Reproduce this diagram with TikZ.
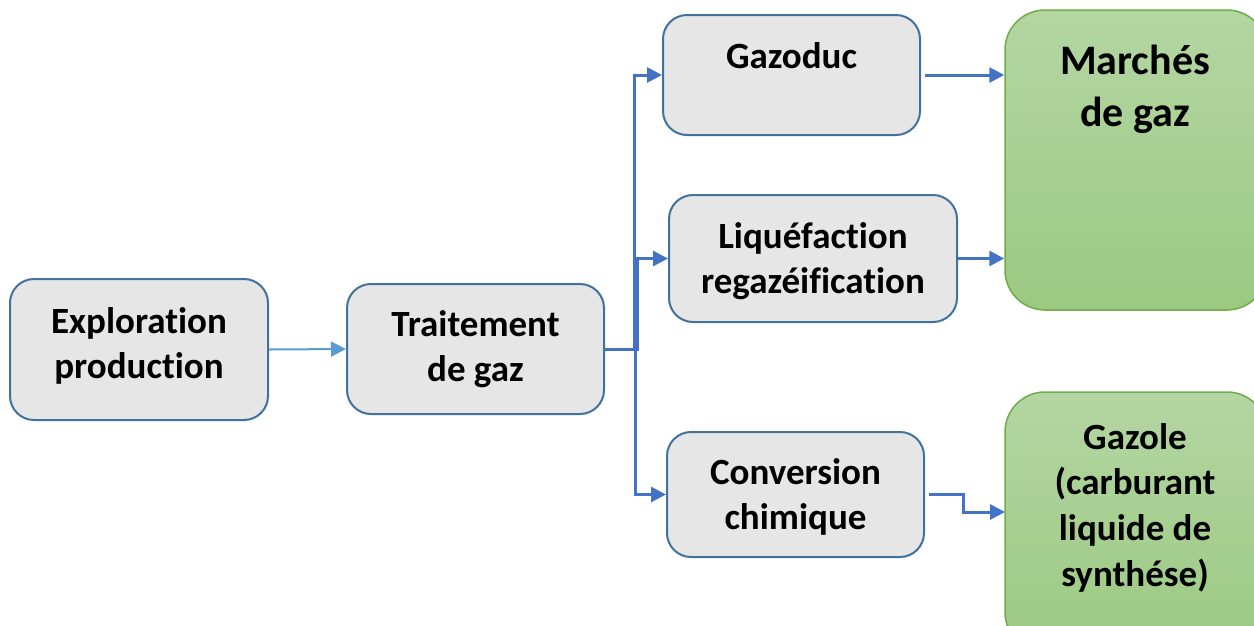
\documentclass[tikz,border=0pt]{standalone}
\usepackage{fontspec}
\setmainfont[Ligatures=NoCommon]{Carlito}
\usetikzlibrary{arrows.meta,calc}
\definecolor{boxfill}{HTML}{E7E6E6}
\definecolor{boxline}{HTML}{41719C}
\definecolor{flow}{HTML}{4472C4}
\definecolor{flowlight}{HTML}{5B9BD5}
\definecolor{greentop}{HTML}{B4D6A3}
\definecolor{greenbot}{HTML}{9BC981}
\definecolor{greenline}{HTML}{70AD47}
\tikzset{
  graybox/.style={draw=boxline, line width=2pt, fill=boxfill, rounded corners=24pt, inner sep=0pt},
  greenbox/.style={draw=greenline, line width=1.5pt, top color=greentop, bottom color=greenbot, rounded corners=40pt, inner sep=0pt},
  lbl/.style={font=\fontsize{37}{45}\selectfont\bfseries, align=center, inner sep=0pt},
  biglbl/.style={font=\fontsize{42}{52}\selectfont\bfseries, align=center, inner sep=0pt},
  flowarrow/.style={draw=flow, line width=3pt, -{Triangle[length=15pt,width=15pt]}},
  thinarrow/.style={draw=flowlight, line width=2pt, -{Triangle[length=15pt,width=15pt]}}
}
\begin{document}
\begin{tikzpicture}[x=1pt,y=-1pt]
\useasboundingbox (0,0) rectangle (1254,625);
% gray boxes
\node[graybox, minimum width=258pt, minimum height=141pt] (expl) at (139,349.5) {};
\node[lbl] (explt) at (139,345.5) {Exploration\\production};
\node[graybox, minimum width=257pt, minimum height=130pt] (trait) at (475.5,349) {};
\node[lbl] (traitt) at (475.5,349) {Traitement\\de gaz};
\node[graybox, minimum width=257pt, minimum height=120pt] (gzd) at (791.5,75) {};
\node[lbl] (gzdt) at (791.5,55.5) {Gazoduc};
\node[graybox, minimum width=288pt, minimum height=127pt] (liq) at (813,258.5) {};
\node[lbl] (liqt) at (813,261) {Liquéfaction\\regazéification};
\node[graybox, minimum width=257pt, minimum height=125pt] (conv) at (795.5,494.5) {};
\node[lbl] (convt) at (795.5,497) {Conversion\\chimique};
% green boxes
\node[greenbox, minimum width=262pt, minimum height=300pt] (mar) at (1136,160) {};
\node[biglbl] (mart) at (1135,89) {Marchés\\de gaz};
\node[greenbox, minimum width=262pt, minimum height=260pt] (gzl) at (1136,522) {};
\node[lbl, font=\fontsize{37}{45.7}\selectfont\bfseries] (gzlt) at (1135,507.5) {Gazole\\(carburant\\liquide de\\synthése)};
% connectors
\draw[thinarrow] (expl.east) -- (trait.east -| trait.west);
\draw[flowarrow] (trait.east) -- ++(29.5,0) |- (gzd.west);
\draw[flowarrow] (trait.east) -- ++(32,0) |- (liq.west);
\draw[flowarrow] (trait.east) -- ++(30,0) |- (conv.west);
\draw[flowarrow, shorten <=4pt] (gzd.east) -- (gzd.east -| mar.west);
\draw[flowarrow] (liq.east) -- (liq.east -| mar.west);
\coordinate (gin) at (1005,512);
\draw[flowarrow, shorten <=4pt] (conv.east) -- ++(38,0) |- (gin);
\end{tikzpicture}
\end{document}
